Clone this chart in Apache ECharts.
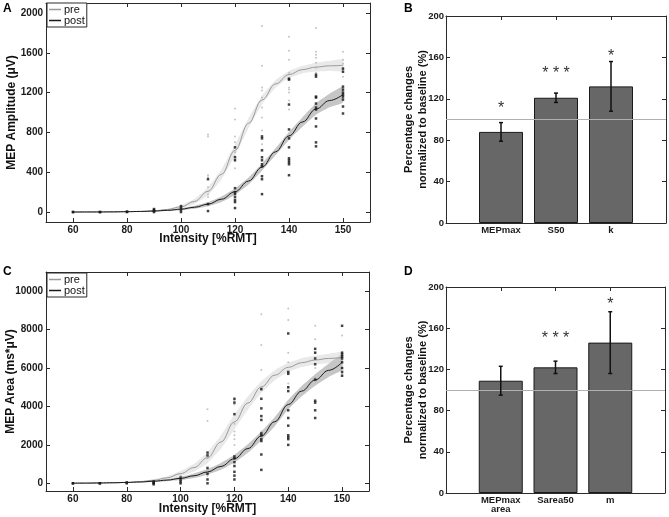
<!DOCTYPE html>
<html><head><meta charset="utf-8">
<script src="https://cdn.jsdelivr.net/npm/echarts@6/dist/echarts.min.js"></script>
<style>html,body{margin:0;padding:0;background:#fff}#c{width:669px;height:517px}</style>
</head><body><div id="c"></div>
<script>
// ---------- data ----------
const intensities = [60,70,80,90,100,110,120,130,140,150,160];
const xTickValues = [60,80,100,120,140,160];
const xTickLabels = ['60','80','100','120','140','150'];
const ampTicks = [0,400,800,1200,1600,2000];
const areaTicks = [0,2000,4000,6000,8000,10000];
const pctTicks = [0,40,80,120,160,200];

const ampPrePoints = [[0,0],[0],[0,5],[10,30],[20,40,60],[780,760,370,350,250,180,150],[1040,930,760,700,600,560,520,440],[1870,1470,1250,1220,1150,1050,950,820,680],[1760,1620,1530,1400,1250,1230,1200,1120,1030],[1850,1610,1580,1550,1500,1450,1400],[1610,1530,1490,1450,1410,1360]];
const ampPostPoints = [[0,0],[0,0],[0,5],[0,10,20,30],[0,20,40,60],[330,80,10],[650,550,520,240,200,180,150,120,100,40],[760,740,620,550,520,480,460,360,330,180],[1340,1330,1080,830,740,650,540,520,500,480,370],[1380,1360,1160,1150,1090,1050,1030,940,860,700,660],[1440,1410,1260,1230,1200,1180,1160,1130,1060,990]];
const areaPrePoints = [[0,0],[0],[0,50],[0,50,100],[0,100,200,400],[3850,3250,1300,700,400],[4300,4100,3100,2700,2500,2300,2000],[8800,7200,5900,5000,4900,2700],[9100,8500,6800,6300,5200,5000],[8200,7500,6800,6000,5500,5300],[7700,6800,6600,6400,6000,5700]];
const areaPostPoints = [[0,0],[0,0],[0,50],[-50,0,50,100],[0,100,200,300],[1600,1450,800,500,200,0],[4400,4200,3600,1400,1300,1100,900,600,400,200],[4900,4400,3900,3500,3300,2600,2500,2300,2200,1500,700],[7800,5800,5700,5000,4800,3800,3400,3000,2500,2400,2300,2000],[7000,6800,6500,6200,5400,4300,4200,3800,3400],[8200,6800,6700,6600,6500,6300,6000,5800,5600]];

const curveX = [60,65,70,75,80,85,90,95,100,105,110,115,120,125,130,135,140,145,150,155,160];
const ampPreFit  = [0,0,1,1,3,6,12,26,53,107,208,379,620,891,1126,1287,1381,1431,1456,1469,1474];
const ampPreLo   = [0,0,1,1,1,3,7,18,38,82,168,329,565,841,1081,1249,1346,1393,1411,1417,1414];
const ampPreHi   = [0,0,1,1,5,9,17,34,68,132,248,429,675,941,1171,1325,1416,1469,1501,1521,1534];
const ampPostFit = [0,1,1,2,4,6,10,17,29,48,79,129,204,311,451,605,765,905,1035,1120,1180];
const ampPostLo  = [0,1,1,2,2,3,6,11,19,33,57,101,172,276,416,570,725,857,977,1052,1100];
const ampPostHi  = [0,1,1,2,6,9,14,23,39,63,101,157,236,346,486,640,805,953,1093,1188,1260];
const areaPreFit  = [4,8,14,26,48,88,159,286,506,820,1330,2150,3200,4180,5016,5631,6035,6280,6420,6501,6546];
const areaPreLo   = [4,8,9,16,28,58,109,206,376,620,1050,1800,2820,3830,4716,5371,5795,6050,6190,6251,6266];
const areaPreHi   = [4,8,19,36,68,118,209,366,636,1020,1610,2500,3580,4530,5316,5891,6275,6510,6650,6751,6826];
const areaPostFit = [8,12,19,29,45,70,109,167,257,393,593,880,1282,1809,2464,3208,4100,4800,5380,5880,6300];
const areaPostLo  = [8,12,14,19,30,45,69,107,167,273,443,700,1082,1589,2234,2968,3850,4530,5080,5540,5910];
const areaPostHi  = [8,12,24,39,60,95,149,227,347,513,743,1060,1482,2029,2694,3448,4350,5070,5680,6220,6690];

const paramsB = ['MEPmax','S50','k'];
const changeB = [88,121,132];
const errB = [9,4.5,24];
const starsB = ['*','* * *','*'];
const starLevelB = [114,148,165];
const paramsD = ['MEPmax\narea','Sarea50','m'];
const changeD = [109,122,146];
const errD = [14,6,30];
const starsD = ['','* * *','*'];
const starLevelD = [0,154,187];
const baseline = 100;

// ---------- helpers ----------
const FONT = '"Liberation Sans", Arial, Helvetica, sans-serif';
const FRAME = '#2a2a2a';
const axLine = {show:true, onZero:false, lineStyle:{color:FRAME, width:1}};
function tick(vals){ return {show:true, inside:true, length:4, customValues:vals, lineStyle:{color:FRAME, width:1}}; }
function lab(fs, vals, fmt, margin){ return {show:true, customValues:vals, formatter:fmt, margin:margin, color:'#1a1a1a', fontSize:fs, fontWeight:'bold', fontFamily:FONT, lineHeight:9}; }
const nameStyle = (fs, lh) => ({fontSize:fs, fontWeight:'bold', fontFamily:FONT, color:'#111', lineHeight:lh});

function xPair(gi, min, max, vals, fmt, fs, margin, name, nameGap){
  return [
    {type:'value', gridIndex:gi, min:min, max:max, position:'bottom', axisLine:axLine, axisTick:tick(vals),
     axisLabel:lab(fs, vals, fmt, margin), splitLine:{show:false},
     name:name, nameLocation:'middle', nameGap:nameGap, nameMoveOverlap:false, nameTextStyle:nameStyle(12, 14)},
    {type:'value', gridIndex:gi, min:min, max:max, position:'top', axisLine:axLine, axisTick:tick(vals),
     axisLabel:{show:false}, splitLine:{show:false}}
  ];
}
function yPair(gi, min, max, vals, fs, margin, name, nameGap, nfs){
  return [
    {type:'value', gridIndex:gi, min:min, max:max, position:'left', axisLine:axLine, axisTick:tick(vals),
     axisLabel:lab(fs, vals, v=>String(v), margin), splitLine:{show:false},
     name:name, nameLocation:'middle', nameGap:nameGap, nameMoveOverlap:false, nameRotate:90, nameTextStyle:nameStyle(nfs, 14)},
    {type:'value', gridIndex:gi, min:min, max:max, position:'right', axisLine:axLine, axisTick:tick(vals),
     axisLabel:{show:false}, splitLine:{show:false}}
  ];
}
function flat(points){ const out=[]; points.forEach((col,i)=>col.forEach(v=>out.push([intensities[i], v]))); return out; }

function band(xi, lo, hi, color){
  return {type:'custom', xAxisIndex:xi, yAxisIndex:xi, z:1, silent:true,
    data: curveX.map((x,i)=>[x, lo[i], hi[i]]), encode:{x:0, y:[1,2]},
    renderItem(params, api){
      if (params.dataIndex !== 0) return null;
      const top = curveX.map((x,i)=>api.coord([x, hi[i]]));
      const bot = curveX.map((x,i)=>api.coord([x, lo[i]])).reverse();
      return {type:'polygon', shape:{points: top.concat(bot), smooth:0.15}, style:{fill:color}};
    }};
}
function curve(xi, name, fit, color){
  return {type:'line', name:name, xAxisIndex:xi, yAxisIndex:xi, z:2, silent:true,
    data: curveX.map((x,i)=>[x, fit[i]]), smooth:0.4, smoothMonotone:'x', symbol:'none',
    lineStyle:{color:color, width:1}, itemStyle:{color:color}};
}
function dots(xi, name, pts, color, sym, size){
  return {type:'scatter', name:name, xAxisIndex:xi, yAxisIndex:xi, z:3, silent:true,
    data: flat(pts), symbol:sym, symbolSize:size, itemStyle:{color:color}};
}
function bars(xi, vals){
  return {type:'bar', xAxisIndex:xi, yAxisIndex:xi, z:2, silent:true, barWidth:44,
    data: vals.map((v,i)=>[i+1, v]),
    itemStyle:{color:'#676767', borderColor:'#1a1a1a', borderWidth:1},
    markLine:{silent:true, symbol:['none','none'], label:{show:false}, z:5,
      lineStyle:{color:'#b0b0b0', width:1, type:'solid'}, data:[{yAxis:baseline}]}};
}
function errs(xi, vals, errsArr){
  return {type:'custom', xAxisIndex:xi, yAxisIndex:xi, z:6, silent:true,
    data: vals.map((v,i)=>[i+1, v, errsArr[i]]), encode:{x:0, y:1},
    renderItem(params, api){
      const x=api.value(0), y=api.value(1), e=api.value(2);
      const a=api.coord([x, y+e]), b=api.coord([x, y-e]);
      const st={stroke:'#111', lineWidth:1.5};
      return {type:'group', children:[
        {type:'line', shape:{x1:a[0], y1:a[1], x2:b[0], y2:b[1]}, style:st},
        {type:'line', shape:{x1:a[0]-2, y1:a[1], x2:a[0]+2, y2:a[1]}, style:st},
        {type:'line', shape:{x1:b[0]-2, y1:b[1], x2:b[0]+2, y2:b[1]}, style:st}
      ]};
    }};
}
function stars(xi, marks, levels){
  const d=[]; marks.forEach((m,i)=>{ if(m) d.push([i+1, levels[i], i]); });
  return {type:'custom', xAxisIndex:xi, yAxisIndex:xi, z:7, silent:true, data:d, encode:{x:0, y:1},
    renderItem(params, api){
      const p = api.coord([api.value(0), api.value(1)]);
      return {type:'text', x:p[0], y:p[1]+4, style:{text: marks[api.value(2)], fill:'#333',
        font:'16px ' + FONT, align:'center', verticalAlign:'middle'}};
    }};
}
function legendAt(top){
  return {left:47, top:top, orient:'vertical', selectedMode:false,
    data:[{name:'pre', icon:'rect'},{name:'post', icon:'rect'}],
    itemWidth:12, itemHeight:1.5, itemGap:0, padding:[1,2,1,2],
    borderColor:FRAME, borderWidth:1, backgroundColor:'#fff',
    textStyle:{fontSize:11, fontFamily:FONT, color:'#111', padding:[0,0,0,-2]}};
}

const xFmt = v => xTickLabels[xTickValues.indexOf(v)];
const option = {
  animation:false,
  backgroundColor:'#fff',
  grid:[
    {left:46, top:3, width:324, height:219, show:false},
    {left:446, top:16, width:220, height:207, show:false},
    {left:46, top:272, width:323, height:219, show:false},
    {left:446, top:287, width:219, height:206, show:false}
  ],
  xAxis:[].concat(
    xPair(0, 50, 170, xTickValues, xFmt, 10, 4, 'Intensity [%RMT]', 10),
    xPair(1, 0, 4, [1,2,3], v=>paramsB[v-1], 9.5, 3, '', 0),
    xPair(2, 50, 170, xTickValues, xFmt, 10, 4, 'Intensity [%RMT]', 11),
    xPair(3, 0, 4, [1,2,3], v=>paramsD[v-1], 9.5, 3, '', 0)
  ),
  yAxis:[].concat(
    yPair(0, -100, 2100, ampTicks, 10, 3, 'MEP Amplitude (\u03bcV)', 27, 12),
    yPair(1, 0, 200, pctTicks, 9.5, 2, 'Percentage changes\nnormalized to baseline (%)', 16, 11),
    yPair(2, -400, 11000, areaTicks, 10, 3, 'MEP Area (ms*\u03bcV)', 28, 12),
    yPair(3, 0, 200, pctTicks, 9.5, 2, 'Percentage changes\nnormalized to baseline (%)', 16, 11)
  ),
  legend:[legendAt(3), legendAt(273)],
  graphic:[
    {type:'text', left:3, top:3, style:{text:'A', font:'bold 12px '+FONT, fill:'#000'}},
    {type:'text', left:404, top:3, style:{text:'B', font:'bold 12px '+FONT, fill:'#000'}},
    {type:'text', left:3, top:266, style:{text:'C', font:'bold 12px '+FONT, fill:'#000'}},
    {type:'text', left:404, top:266, style:{text:'D', font:'bold 12px '+FONT, fill:'#000'}}
  ],
  series:[
    band(0, ampPreLo, ampPreHi, '#e9e9e9'),
    band(0, ampPostLo, ampPostHi, '#c6c6c6'),
    curve(0, 'pre', ampPreFit, '#9a9a9a'),
    curve(0, 'post', ampPostFit, '#1a1a1a'),
    dots(0, 'pre data A', ampPrePoints, '#b4b4b4', 'circle', 2),
    dots(0, 'post data A', ampPostPoints, '#151515', 'rect', 2.5),

    bars(2, changeB), errs(2, changeB, errB), stars(2, starsB, starLevelB),

    band(4, areaPreLo, areaPreHi, '#e9e9e9'),
    band(4, areaPostLo, areaPostHi, '#c6c6c6'),
    curve(4, 'pre', areaPreFit, '#9a9a9a'),
    curve(4, 'post', areaPostFit, '#1a1a1a'),
    dots(4, 'pre data C', areaPrePoints, '#b4b4b4', 'circle', 2),
    dots(4, 'post data C', areaPostPoints, '#151515', 'rect', 2.5),

    bars(6, changeD), errs(6, changeD, errD), stars(6, starsD, starLevelD)
  ]
};
const chart = echarts.init(document.getElementById('c'));
chart.setOption(option);
</script>
</body></html>
